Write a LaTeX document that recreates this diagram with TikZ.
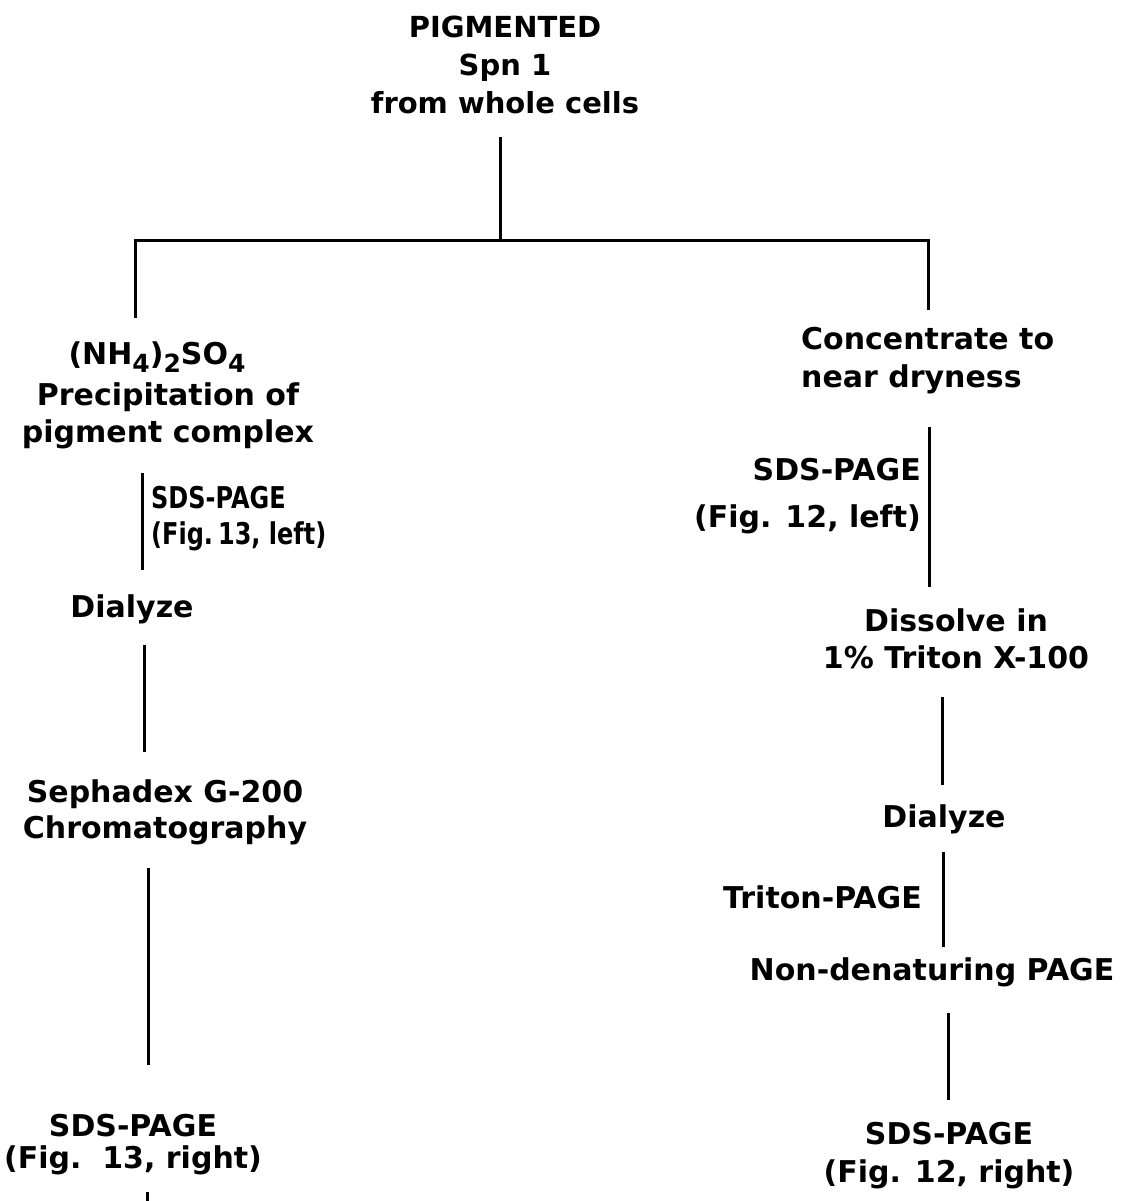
\documentclass[tikz,border=0pt]{standalone}
\usepackage{fontspec}
\newfontfamily\labfont{DejaVu Sans}
\newfontfamily\labfontc{DejaVu Sans}[FakeStretch=0.8]
\newcommand{\lowsub}[1]{\raisebox{-8pt}{\fontsize{25}{25}\selectfont #1}}
\begin{document}
\begin{tikzpicture}[x=1pt,y=-1pt,
  lab/.style={inner sep=0pt, font=\labfont\bfseries\fontsize{30}{37}\selectfont},
  toplab/.style={inner sep=0pt, align=center, font=\labfont\bfseries\fontsize{29}{38}\selectfont},
  conn/.style={line width=3pt}]
\useasboundingbox (0,0) rectangle (1121,1201);

% text nodes
\node[toplab, anchor=north] (top) at (505,16) {PIGMENTED\\Spn 1\\from whole cells};
\node[lab, anchor=base, font=\labfont\bfseries\fontsize{30}{30}\selectfont] (nh) at (157,364) {(NH\lowsub{4})\lowsub{2}SO\lowsub{4}};
\node[lab, anchor=north, align=center] (precip) at (168,383) {Precipitation of\\pigment complex};
\node[lab, anchor=north west, align=left, font=\labfontc\bfseries\fontsize{30}{36}\selectfont] (sdsA) at (151,486) {SDS-PAGE\\(Fig.\,13, left)};
\node[lab, anchor=base] (dialA) at (132,617) {Dialyze};
\node[lab, anchor=north, align=center, font=\labfont\bfseries\fontsize{30}{36}\selectfont] (seph) at (165,779) {Sephadex G-200\\Chromatography};
\node[lab, anchor=north, align=center, font=\labfont\bfseries\fontsize{30}{32}\selectfont] (sdsC) at (133,1114) {SDS-PAGE\\(Fig.~~13, right)};

\node[lab, anchor=north west, align=left, font=\labfont\bfseries\fontsize{30}{38}\selectfont] (conc) at (801,327) {Concentrate to\\near dryness};
\node[lab, anchor=north east, align=right, font=\labfont\bfseries\fontsize{30}{47}\selectfont] (sdsB) at (921,458) {SDS-PAGE\\(Fig. 12, left)};
\node[lab, anchor=north, align=center, font=\labfont\bfseries\fontsize{30}{36}\selectfont] (diss) at (956,609) {Dissolve in\\1\% Triton X-100};
\node[lab, anchor=base] (dialB) at (944,827) {Dialyze};
\node[lab, anchor=base east] (triton) at (922,908) {Triton-PAGE};
\node[lab, anchor=base] (nondn) at (932,980) {Non-denaturing PAGE};
\node[lab, anchor=north, align=center, font=\labfont\bfseries\fontsize{30}{38}\selectfont] (sdsD) at (949,1122) {SDS-PAGE\\(Fig. 12, right)};

% connector end points
\coordinate (t0) at (500,137);
\coordinate (jc) at (500,240);
\coordinate (jl) at (135,240);
\coordinate (jr) at (928,240);
\coordinate (l0) at (135,318);
\coordinate (r0) at (928,310);
\coordinate (a1) at (142,473); \coordinate (a2) at (142,570);
\coordinate (b1) at (144,645); \coordinate (b2) at (144,752);
\coordinate (c1) at (148,868); \coordinate (c2) at (148,1065);
\coordinate (d1) at (147,1192); \coordinate (d2) at (147,1201);
\coordinate (e1) at (929,427); \coordinate (e2) at (929,587);
\coordinate (f1) at (942,697); \coordinate (f2) at (942,785);
\coordinate (g1) at (943,852); \coordinate (g2) at (943,947);
\coordinate (h1) at (948,1013); \coordinate (h2) at (948,1100);

\draw[conn] (t0) -- (jc);
\draw[conn] (l0) -- (jl) -- (jr) -- (r0);
\draw[conn] (a1) -- (a2);
\draw[conn] (b1) -- (b2);
\draw[conn] (c1) -- (c2);
\draw[conn] (d1) -- (d2);
\draw[conn] (e1) -- (e2);
\draw[conn] (f1) -- (f2);
\draw[conn] (g1) -- (g2);
\draw[conn] (h1) -- (h2);
\end{tikzpicture}
\end{document}
